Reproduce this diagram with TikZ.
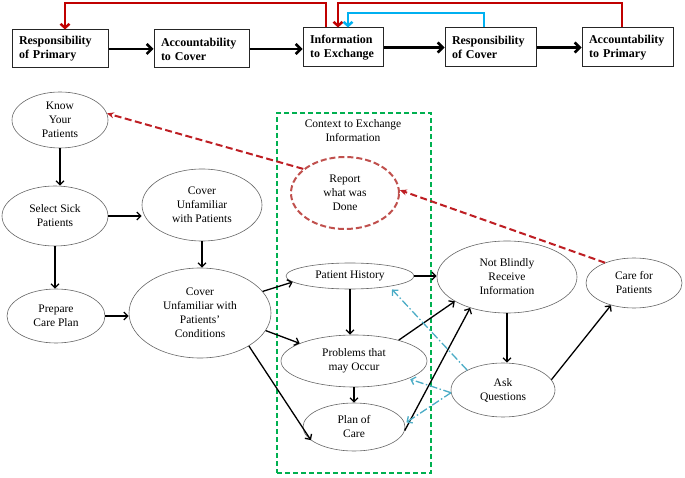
\documentclass[tikz,border=0pt]{standalone}
\usepackage{fontspec}
\setmainfont{Liberation Serif}
\usetikzlibrary{shapes.geometric,arrows.meta,calc}
\definecolor{topred}{RGB}{192,0,0}
\definecolor{dred}{RGB}{190,30,35}
\definecolor{rptred}{RGB}{192,80,77}
\definecolor{cblue}{RGB}{0,176,240}
\definecolor{cgreen}{RGB}{0,176,80}
\definecolor{tealc}{RGB}{75,172,198}
\begin{document}
\begin{tikzpicture}[x=1pt,y=-1pt,
  box/.style={draw=black!85, line width=1pt, rectangle, inner xsep=7pt, inner ysep=0pt,
    font=\bfseries\fontsize{12}{14}\selectfont, align=left},
  el/.style={ellipse, draw=black!60, line width=0.6pt, inner sep=0pt, align=center,
    font=\fontsize{11.5}{14}\selectfont},
  tarr/.style={line width=2.5pt, -{Straight Barb[length=5pt,width=10pt]}},
  arr/.style={line width=1.3pt, -{Straight Barb[length=4pt,width=8pt]}},
  redtop/.style={draw=topred, line width=2.5pt, -{Straight Barb[length=4pt,width=9pt]}},
  bluetop/.style={draw=cblue, line width=2.5pt, -{Straight Barb[length=4pt,width=9pt]}},
  rdash/.style={draw=dred, line width=2pt, dash pattern=on 7pt off 3.5pt, -{Stealth[length=7pt,width=6pt]}},
  tdash/.style={draw=tealc, line width=1.3pt, dash pattern=on 8pt off 2.5pt on 1.5pt off 2.5pt,
    -{Straight Barb[length=4pt,width=8pt]}, shorten >=2pt},
  greenbox/.style={draw=cgreen, line width=1.6pt, dash pattern=on 5pt off 3pt, rectangle}
]
\useasboundingbox (0,0) rectangle (685,478);

% top row
\node[box, minimum height=38pt, text width=82pt] (b1) at (60,49) {Responsibility\\of Primary};
\node[box, minimum height=38pt, text width=81pt] (b2) at (201.5,49) {Accountability\\to Cover};
\node[box, minimum height=39pt, text width=66pt] (b3) at (343,47.5) {Information\\to Exchange};
\node[box, minimum height=39pt, text width=77pt] (b4) at (490.5,47.5) {Responsibility\\of Cover};
\node[box, minimum height=39pt, text width=77pt] (b5) at (627.5,47.5) {Accountability\\to Primary};

\draw[tarr] (b1.east) -- (b1.east -| b2.west);
\draw[tarr] (b2.east) -- (b2.east -| b3.west);
\draw[tarr] (b3.east) -- (b3.east -| b4.west);
\draw[tarr] (b4.east) -- (b4.east -| b5.west);

\coordinate (r1) at (326,3);
\coordinate (r2) at (65,3);
\coordinate (r3) at (622,3);
\coordinate (r4) at (338,3);
\coordinate (c1) at (484,13);
\coordinate (c2) at (348,13);
\draw[redtop] (r1 |- b3.north) -- (r1) -- (r2) -- (r2 |- b1.north);
\draw[redtop] (r3 |- b5.north) -- (r3) -- (r4) -- (r4 |- b3.north);
\draw[bluetop] (c1 |- b4.north) -- (c1) -- (c2) -- (c2 |- b3.north);

% context box
\node[greenbox, minimum width=154pt, minimum height=360pt] (ctx) at (354,293) {};
\node[font=\fontsize{11.5}{14}\selectfont, align=center] (ctxl) at (353,131) {Context to Exchange\\Information};

% ellipses
\node[el, minimum width=96pt, minimum height=56pt] (know) at (60,120) {Know\\Your\\Patients};
\node[el, minimum width=106pt, minimum height=60pt] (sel) at (55,216) {Select Sick\\Patients};
\node[el, minimum width=120pt, minimum height=72pt] (cwp) at (202,205) {Cover\\Unfamiliar\\with Patients};
\node[el, minimum width=98pt, minimum height=54pt] (prep) at (56,316) {Prepare\\Care Plan};
\node[el, minimum width=142pt, minimum height=90pt] (cond) at (200,313) {Cover\\Unfamiliar with\\Patients'\\Conditions};
\node[el, draw=rptred, line width=2pt, dash pattern=on 6pt off 3pt, minimum width=108pt, minimum height=72pt] (rpt) at (345,193) {Report\\what was\\Done};
\node[el, minimum width=128pt, minimum height=26pt] (ph) at (350,276) {Patient History};
\node[el, minimum width=146pt, minimum height=52pt] (prob) at (354,361) {Problems that\\may Occur};
\node[el, minimum width=102pt, minimum height=48pt] (plan) at (354,427) {Plan of\\Care};
\node[el, minimum width=140pt, minimum height=72pt] (nb) at (507,277) {Not Blindly\\Receive\\Information};
\node[el, minimum width=96pt, minimum height=50pt] (care) at (634,283) {Care for\\Patients};
\node[el, minimum width=104pt, minimum height=54pt] (ask) at (503,390) {Ask\\Questions};

% black connectors
\draw[arr] (know.south) -- (know.south |- sel.north);
\draw[arr] (sel.east) -- (sel.east -| cwp.west);
\draw[arr] (sel.south) -- (sel.south |- prep.north);
\draw[arr] (cwp.south) -- (cwp.south |- cond.north);
\draw[arr] (prep.east) -- (prep.east -| cond.west);
\draw[arr] (cond.19) -- (ph.186);
\draw[arr] (cond.-15) -- (prob.162);
\draw[arr] (cond.-34) -- (plan.197);
\draw[arr] (ph.south) -- (ph.south |- prob.north);
\draw[arr] (prob.south) -- (prob.south |- plan.north);
\draw[arr] (ph.east) -- (ph.east -| nb.west);
\draw[arr] (prob.25) -- (nb.205);
\draw[arr] (plan.-4) -- (nb.220);
\draw[arr] (nb.south) -- (nb.south |- ask.north);
\draw[arr] (ask.12) -- (care.224);

% red dashed
\draw[rdash] (care.145) -- (rpt.3);
\draw[rdash] (rpt.150) -- (know.8);

% teal dash-dot
\draw[tdash, shorten >=4pt] (ask.151) -- (ph.-15);
\draw[tdash] (ask.183) -- (prob.-18);
\draw[tdash] (ask.183) -- (plan.4);
\end{tikzpicture}
\end{document}
